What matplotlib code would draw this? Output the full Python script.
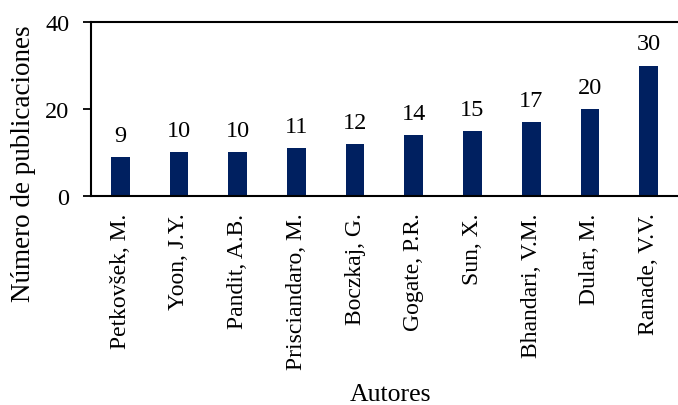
import matplotlib
matplotlib.use("Agg")
import matplotlib.pyplot as plt

autores = ["Petkovšek, M.", "Yoon, J.Y.", "Pandit, A.B.", "Prisciandaro, M.",
           "Boczkaj, G.", "Gogate, P.R.", "Sun, X.", "Bhandari, V.M.",
           "Dular, M.", "Ranade, V.V."]
publicaciones = [9, 10, 10, 11, 12, 14, 15, 17, 20, 30]
yticks = [0, 20, 40]

plt.rcParams['font.family'] = ['Liberation Serif', 'DejaVu Serif']
plt.rcParams['font.size'] = 17

fig = plt.figure(figsize=(6.78, 4.06), dpi=100)
ax = fig.add_axes([0.134, 0.515, 0.866, 0.428])

x = list(range(len(autores)))
ax.bar(x, publicaciones, width=0.32, color="#002060", zorder=2)
for xi, v in zip(x, publicaciones):
    ax.annotate(str(v), (xi, v), xytext=(0, 8), textcoords="offset points",
                ha="center", va="bottom", fontsize=17.5)

ax.set_xlim(-0.5, len(autores) - 0.5)
ax.set_ylim(0, 40)
ax.set_yticks(yticks)
ax.set_xticks(x)
ax.set_xticklabels(autores, rotation=90)
ax.tick_params(axis="x", length=0, pad=12, labelsize=17)
ax.tick_params(axis="y", length=6, width=1.3, direction="out", pad=9.5, labelsize=17.5)

for side in ("left", "bottom", "top"):
    ax.spines[side].set_linewidth(1.5)
ax.spines["right"].set_visible(False)

ax.set_xlabel("Autores", fontsize=18.5, va="baseline")
ax.xaxis.set_label_coords(0.51, -1.175)
ax.set_ylabel("Número de publicaciones", fontsize=19.5)
ax.yaxis.set_label_coords(-0.094, 0.19)

fig.savefig("out.png", dpi=100)
